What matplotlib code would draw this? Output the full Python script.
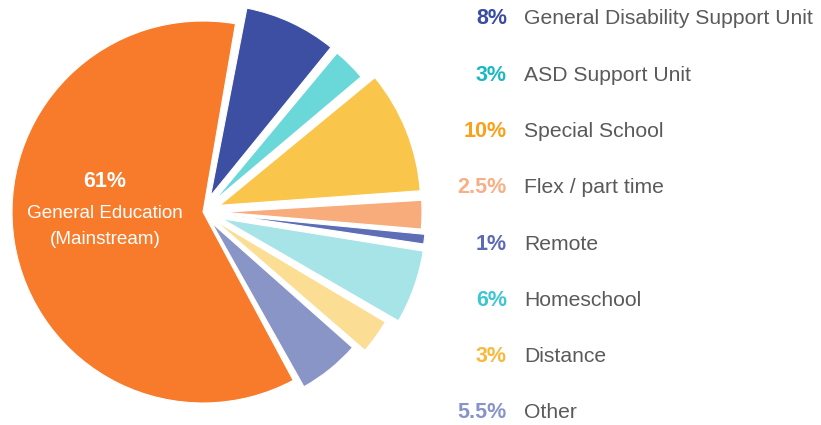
import matplotlib
matplotlib.use("Agg")
import matplotlib.pyplot as plt

plt.rcParams['font.family'] = ['Liberation Sans', 'DejaVu Sans']

categories = ["General Disability Support Unit", "ASD Support Unit", "Special School",
              "Flex / part time", "Remote", "Homeschool", "Distance", "Other",
              "General Education (Mainstream)"]
values = [8, 3, 10, 2.5, 1, 6, 3, 5.5, 61]
pct_labels = ["8%", "3%", "10%", "2.5%", "1%", "6%", "3%", "5.5%"]

slice_colors = ["#3D4FA3", "#6AD7D8", "#F9C54B", "#F8AC7C", "#5E6DB8",
                "#A6E4E7", "#FBDD94", "#8A95C7", "#F77B2A"]
pct_colors = ["#3A4BA4", "#1BB8C4", "#FAA118", "#F9AE84", "#5C6AB5",
              "#3CC6D3", "#FBB73C", "#8793CB"]

# slice offsets / radii in pixels (styling)
explode_px = [18, 16, 18, 20, 30, 20, 15, 14, 0]
radius_px = [191, 192, 201, 199, 193, 204, 198, 188, 191]
shrink_deg = [0.35, 0.35, 0.35, 0.35, 0.35, 0.35, 0.35, 0.35, 0.8]

W, H = 821, 425
fig = plt.figure(figsize=(W / 100, H / 100), dpi=100)
ax = fig.add_axes([0, 0, 1, 1])

cx, cy, R = 203, H - 212, 191
wedges, _ = ax.pie(values, colors=slice_colors, explode=explode_px, startangle=79.4,
                   counterclock=False, center=(cx, cy), radius=R,
                   wedgeprops=dict(edgecolor='white', linewidth=0.8), frame=True)
for w, r, s in zip(wedges, radius_px, shrink_deg):
    t1, t2 = w.theta1, w.theta2
    w.set_theta1(t1 + s)
    w.set_theta2(t2 - s)
    w.set_radius(r)

ax.set_xlim(0, W)
ax.set_ylim(0, H)
ax.set_aspect('equal')
ax.axis('off')

ax.text(105, H - 181, "61%", color='white', fontsize=15.5, fontweight='bold',
        ha='center', va='center')
ax.text(105, H - 213, "General Education", color='white', fontsize=13.6,
        ha='center', va='center')
ax.text(105, H - 239, "(Mainstream)", color='white', fontsize=13.6,
        ha='center', va='center')

rows_y = [18, 75, 131, 187, 244, 300, 357, 413]
for i, y in enumerate(rows_y):
    ax.text(507, H - y, pct_labels[i], color=pct_colors[i], fontsize=15.5,
            fontweight='bold', ha='right', va='center')
    ax.text(524, H - y, categories[i], color='#5A5A5A', fontsize=15.2,
            ha='left', va='center')

fig.savefig("out.png", dpi=100)
